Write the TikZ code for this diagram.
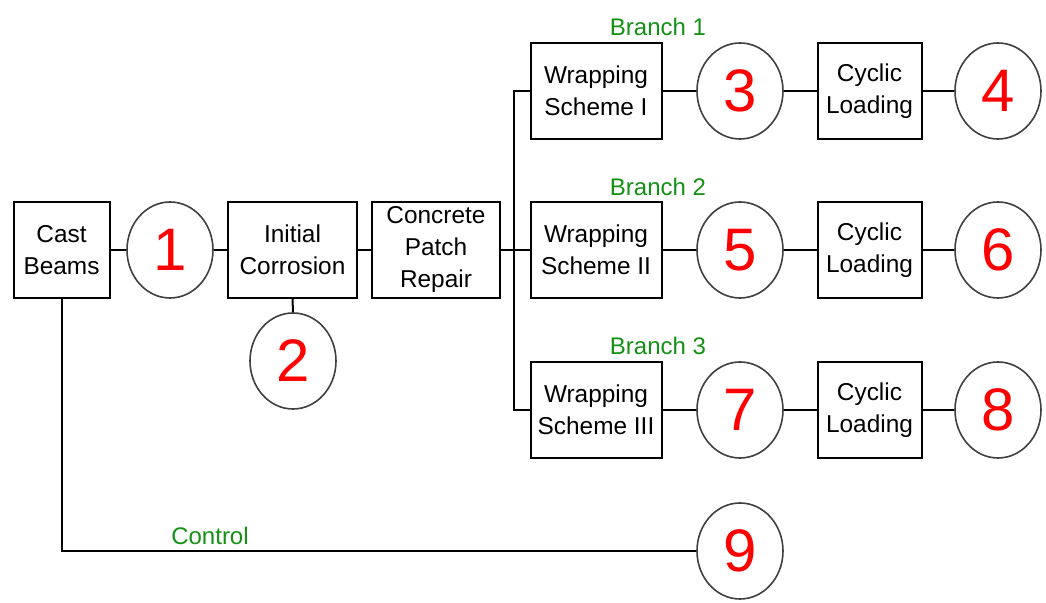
\documentclass[tikz,border=0pt]{standalone}
\usepackage{fontspec}
\setmainfont{Liberation Sans}
\usetikzlibrary{shapes.geometric}
\definecolor{branchgreen}{RGB}{20,145,20}
\tikzset{
    stage/.style={draw, line width=1pt, minimum height=48pt, inner sep=0pt, align=center,
        font=\fontsize{12.2}{16}\selectfont},
    state/.style={draw=black!75, ellipse, line width=0.8pt, minimum width=43pt, minimum height=48pt,
        inner sep=0pt, text=red, font=\fontsize{30}{30}\selectfont},
    tag/.style={text=branchgreen, inner sep=0pt, font=\fontsize{12}{14}\selectfont},
    link/.style={line width=1pt}
}
\begin{document}
\begin{tikzpicture}[x=0.5pt, y=-0.5pt]
                \useasboundingbox (0,0) rectangle (1046,603);
                \node [stage, minimum width=48pt] (cast) at (61.5,250) {Cast\\Beams};
                \node [state] (n1) at (170,250) {1};
                \node [stage, minimum width=64.5pt] (corr) at (292.5,250) {Initial\\Corrosion};
                \node [stage, minimum width=64pt] (conc) at (436,250) {Concrete\\Patch\\Repair};
                \node [state] (n2) at (293,361) {2};
                \coordinate (split) at (514,250);

                \node [stage, minimum width=65.5pt] (wrap1) at (596,91) {Wrapping\\Scheme I};
                \node [stage, minimum width=65.5pt] (wrap2) at (596,250) {Wrapping\\Scheme II};
                \node [stage, minimum width=65.5pt] (wrap3) at (596,410) {Wrapping\\Scheme III};
                \node [state] (n3) at (740,91) {3};
                \node [state] (n5) at (740,250) {5};
                \node [state] (n7) at (740,410) {7};
                \node [stage, minimum width=52pt] (cyc1) at (869.5,91) {Cyclic\\Loading};
                \node [stage, minimum width=52pt] (cyc2) at (869.5,250) {Cyclic\\Loading};
                \node [stage, minimum width=52pt] (cyc3) at (869.5,410) {Cyclic\\Loading};
                \node [state] (n4) at (998,91) {4};
                \node [state] (n6) at (998,250) {6};
                \node [state] (n8) at (998,410) {8};
                \node [state] (n9) at (740,551) {9};

                \node [tag, anchor=base] (br1) at (658,36) {Branch 1};
                \node [tag, anchor=base] (br2) at (658,196) {Branch 2};
                \node [tag, anchor=base] (br3) at (658,355) {Branch 3};
                \node [tag, anchor=base] (ctrl) at (210,545) {Control};

                \draw [link] (cast) -- (n1);
                \draw [link] (n1) -- (corr);
                \draw [link] (corr) -- (conc);
                \draw [link] (corr) -- (n2);
                \draw [link] (conc) -- (split);
                \draw [link] (split) -- (wrap2);
                \draw [link] (split) |- (wrap1.west);
                \draw [link] (split) |- (wrap3.west);

                \draw [link] (wrap1) -- (n3) -- (cyc1) -- (n4);
                \draw [link] (wrap2) -- (n5) -- (cyc2) -- (n6);
                \draw [link] (wrap3) -- (n7) -- (cyc3) -- (n8);

                \draw [link] (cast.south) |- (n9);
            \end{tikzpicture}
\end{document}
